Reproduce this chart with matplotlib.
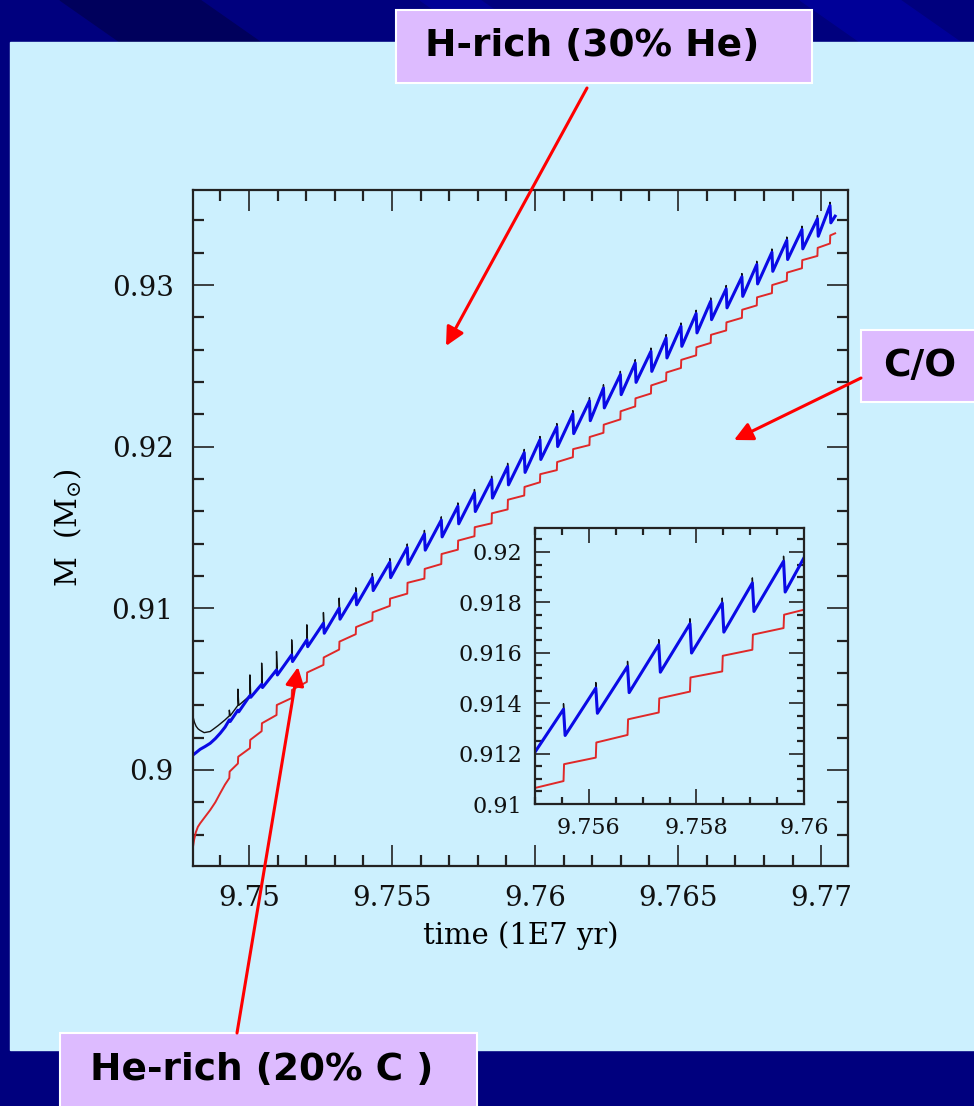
import matplotlib
matplotlib.use("Agg")
import matplotlib.pyplot as plt
from matplotlib.patches import Rectangle, Polygon
from matplotlib.ticker import MultipleLocator, FuncFormatter

# thermal pulse times (1E7 yr)
pulse_t = [9.74931, 9.74961, 9.75003, 9.75044, 9.75096, 9.75149, 9.75202, 9.75260,
           9.75315, 9.75373, 9.75431, 9.75492, 9.75553, 9.75613, 9.75672, 9.75730,
           9.75788, 9.75848, 9.75904, 9.75962, 9.76017, 9.76076, 9.76132, 9.76190,
           9.76239, 9.76298, 9.76350, 9.76405, 9.76458, 9.76510, 9.76563, 9.76614,
           9.76668, 9.76723, 9.76775, 9.76828, 9.76880, 9.76933, 9.76987, 9.77031]

# H-free core mass: value just before and just after each pulse
blue_peak = [0.9031, 0.9037, 0.9046, 0.9053, 0.90619, 0.90712, 0.90805, 0.90908,
             0.91001, 0.91094, 0.91190, 0.91285, 0.91376, 0.91460, 0.91546, 0.91632,
             0.91715, 0.91797, 0.91877, 0.91963, 0.92043, 0.92123, 0.92203, 0.92283,
             0.92363, 0.92446, 0.92518, 0.92590, 0.92673, 0.92745, 0.92824, 0.92900,
             0.92977, 0.93051, 0.93127, 0.93203, 0.93277, 0.93344, 0.93410, 0.93492]
blue_trough = [0.9030, 0.9036, 0.9045, 0.9051, 0.90588, 0.90671, 0.90763, 0.90846,
               0.90933, 0.91022, 0.91110, 0.91190, 0.91272, 0.91360, 0.91442, 0.91523,
               0.91599, 0.91682, 0.91764, 0.91841, 0.91921, 0.92001, 0.92081, 0.92161,
               0.92240, 0.92322, 0.92398, 0.92466, 0.92549, 0.92621, 0.92704, 0.92786,
               0.92859, 0.92930, 0.93007, 0.93085, 0.93158, 0.93224, 0.93302, 0.93385]
blue_lead_t = [9.74804, 9.74815, 9.74829, 9.74846, 9.74864, 9.74882, 9.74899, 9.74916]
blue_lead_m = [0.90093, 0.90108, 0.90128, 0.90145, 0.90165, 0.90194, 0.90227, 0.90265]
blue_end = (9.77049, 0.93426)

# black track: early part and the flash spikes
black_lead_t = [9.74804, 9.74809, 9.74815, 9.74822, 9.74829, 9.74843, 9.74864, 9.74892, 9.74916]
black_lead_m = [0.90330, 0.90295, 0.90270, 0.90254, 0.90245, 0.90231, 0.90238, 0.90275, 0.90310]
black_early_base = [0.90335, 0.90400]
black_spike = [0.9037, 0.9050, 0.90588, 0.90661, 0.90733, 0.90805, 0.90898, 0.90974,
               0.91063, 0.91127, 0.91215, 0.91308, 0.91398, 0.91482, 0.91566, 0.91652,
               0.91735, 0.91817, 0.91897, 0.91983, 0.92063, 0.92143, 0.92223, 0.92303,
               0.92383, 0.92466, 0.92538, 0.92610, 0.92693, 0.92765, 0.92844, 0.92920,
               0.92997, 0.93071, 0.93147, 0.93223, 0.93297, 0.93364, 0.93430, 0.93512]

# He-free core mass: staircase, before / after each step
red_lead_t = [9.74804, 9.74808, 9.74814, 9.74821, 9.74829, 9.74846, 9.74864, 9.74882, 9.74899, 9.74916]
red_lead_m = [0.89525, 0.89570, 0.89615, 0.89648, 0.89670, 0.89710, 0.89752, 0.89800, 0.89856, 0.89910]
red_before = [0.8995, 0.9004, 0.90135, 0.9024, 0.9034, 0.90445, 0.90545, 0.9065,
              0.90745, 0.9084, 0.90925, 0.91015, 0.91091, 0.91184, 0.91274, 0.91363,
              0.91446, 0.91526, 0.91612, 0.91698, 0.91780, 0.91855, 0.91935, 0.92010,
              0.92086, 0.92169, 0.92249, 0.92329, 0.92409, 0.92487, 0.92565, 0.92642,
              0.92719, 0.92797, 0.92874, 0.92950, 0.93027, 0.93104, 0.93180, 0.93257]
red_after = [0.8999, 0.90082, 0.90186, 0.90289, 0.90402, 0.90495, 0.90603, 0.90696,
             0.90794, 0.90884, 0.90975, 0.91060, 0.91158, 0.91244, 0.91336, 0.91419,
             0.91502, 0.91588, 0.91672, 0.91751, 0.91830, 0.91905, 0.91985, 0.92060,
             0.92136, 0.92219, 0.92299, 0.92379, 0.92459, 0.92537, 0.92615, 0.92692,
             0.92769, 0.92847, 0.92924, 0.93000, 0.93077, 0.93154, 0.93230, 0.93307]
red_end = (9.77049, 0.93320)

DROP = 0.00003  # duration of the fall after each pulse

# build the vertex lists
blue_t, blue_m = list(blue_lead_t), list(blue_lead_m)
for t, p, q in zip(pulse_t, blue_peak, blue_trough):
    blue_t += [t, t + DROP]
    blue_m += [p, q]
blue_t.append(blue_end[0])
blue_m.append(blue_end[1])

black_base = black_early_base + blue_peak[2:]
black_low = black_early_base + blue_trough[2:]
black_t, black_m = list(black_lead_t), list(black_lead_m)
for t, b, s, q in zip(pulse_t, black_base, black_spike, black_low):
    black_t += [t, t, t + DROP]
    black_m += [b, s, q]
black_t.append(blue_end[0])
black_m.append(blue_end[1])

red_t, red_m = list(red_lead_t), list(red_lead_m)
for t, b, a in zip(pulse_t, red_before, red_after):
    red_t += [t, t + DROP / 3]
    red_m += [b, a]
red_t.append(red_end[0])
red_m.append(red_end[1])

W, H = 974, 1106
NAVY = "#00007e"
PANEL = "#ccf0fe"
BOX = "#ddbbff"
SPINE = "#222222"

plt.rcParams["font.family"] = ["DejaVu Serif"]
plt.rcParams["mathtext.fontset"] = "dejavuserif"

fig = plt.figure(figsize=(W / 100, H / 100), dpi=100)
fig.patch.set_facecolor(NAVY)


def px_rect(x0, y0, x1, y1):
    return [x0 / W, 1 - y1 / H, (x1 - x0) / W, (y1 - y0) / H]


# slide background
bg = fig.add_axes([0, 0, 1, 1], zorder=-10)
bg.set_xlim(0, W)
bg.set_ylim(H, 0)
bg.axis("off")
bg.add_patch(Polygon([(60, 0), (200, 0), (260, 42), (120, 42)], color="#00005c"))
bg.add_patch(Polygon([(420, 0), (480, 0), (540, 42), (480, 42)], color="#000096"))
bg.add_patch(Polygon([(800, 0), (900, 0), (960, 42), (860, 42)], color="#000098"))
bg.add_patch(Rectangle((10, 42), W - 10, 1008, color=PANEL))

fmt = FuncFormatter(lambda v, p: f"{v:g}")


def style_axes(ax, major_len, minor_len, size, pad):
    for s in ax.spines.values():
        s.set_linewidth(1.6)
        s.set_color(SPINE)
    ax.tick_params(which="both", direction="in", top=True, right=True,
                   colors=SPINE, labelcolor="#111111")
    ax.tick_params(which="major", length=major_len, width=1.2,
                   labelsize=size, pad=pad)
    ax.tick_params(which="minor", length=minor_len, width=1.6)
    ax.xaxis.set_major_formatter(fmt)
    ax.yaxis.set_major_formatter(fmt)


# main panel
ax = fig.add_axes(px_rect(193, 190, 848, 866))
ax.set_facecolor("none")
ax.plot(red_t, red_m, color="#e02828", lw=1.4)
ax.plot(black_t, black_m, color="#111111", lw=1.0)
ax.plot(blue_t, blue_m, color="#0a0ae6", lw=2.2)
ax.set_xlim(9.74804, 9.77094)
ax.set_ylim(0.89406, 0.93588)
ax.xaxis.set_major_locator(MultipleLocator(0.005))
ax.xaxis.set_minor_locator(MultipleLocator(0.001))
ax.yaxis.set_major_locator(MultipleLocator(0.01))
ax.yaxis.set_minor_locator(MultipleLocator(0.002))
style_axes(ax, 15, 8, 20, 14)
ax.set_xlabel("time (1E7 yr)", fontsize=21, labelpad=6)
ax.set_ylabel(r"M  (M$_{\odot}$)", fontsize=21, labelpad=20)

# inset zoom
axi = fig.add_axes(px_rect(535, 528, 804, 804))
axi.set_facecolor(PANEL)
axi.plot(red_t, red_m, color="#e02828", lw=1.4)
axi.plot(black_t, black_m, color="#111111", lw=1.0)
axi.plot(blue_t, blue_m, color="#0a0ae6", lw=2.2)
axi.set_xlim(9.755, 9.760)
axi.set_ylim(0.910, 0.92095)
axi.xaxis.set_major_locator(MultipleLocator(0.002))
axi.xaxis.set_minor_locator(MultipleLocator(0.0005))
axi.yaxis.set_major_locator(MultipleLocator(0.002))
axi.yaxis.set_minor_locator(MultipleLocator(0.0005))
style_axes(axi, 11, 5, 16, 9)

# labels and arrows on top
top = fig.add_axes([0, 0, 1, 1], zorder=20)
top.set_xlim(0, W)
top.set_ylim(H, 0)
top.axis("off")
top.patch.set_alpha(0)

boxes = [
    ((396, 10, 812, 83), (592, 46), "H-rich (30% He)"),
    ((861, 330, 990, 402), (920, 366), "C/O"),
    ((60, 1033, 477, 1120), (262, 1070), "He-rich (20% C )"),
]
for (x0, y0, x1, y1), (tx, ty), label in boxes:
    top.add_patch(Rectangle((x0, y0), x1 - x0, y1 - y0, facecolor=BOX,
                            edgecolor="white", lw=1.5, clip_on=False))
    top.text(tx, ty, label, ha="center", va="center", fontsize=27,
             fontweight="bold", family="DejaVu Sans", color="black")

arrows = [((587, 88), (446, 346)), ((861, 378), (734, 440)), ((237, 1033), (298, 667))]
for start, tip in arrows:
    top.annotate("", xy=tip, xytext=start,
                 arrowprops=dict(arrowstyle="-|>", color="#ff0000", lw=2.2,
                                 mutation_scale=28, shrinkA=0, shrinkB=0))

fig.savefig("out.png", dpi=100, facecolor=fig.get_facecolor())
plt.close(fig)
